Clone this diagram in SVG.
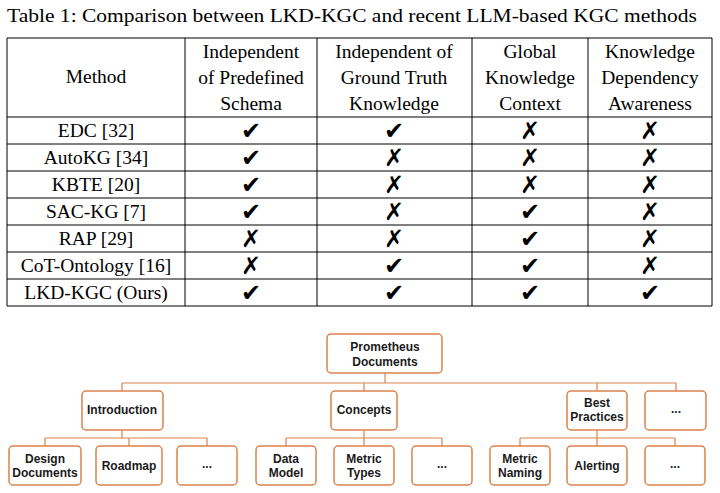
<svg xmlns="http://www.w3.org/2000/svg" width="720" height="493" viewBox="0 0 720 493">
<style>
.t{font-family:"Liberation Serif",serif;font-size:19.5px;fill:#000}
.c{text-anchor:middle}
.m{font-family:"DejaVu Sans",sans-serif;font-size:24px;text-anchor:middle;fill:#000}
.ln{stroke:#000;stroke-width:1;fill:none}
.b{fill:#fff;stroke:#d9834a;stroke-width:1.5}
.n{font-family:"Liberation Sans",Arial,sans-serif;font-size:12px;font-weight:bold;text-anchor:middle;fill:#1a1a1a}
.e{stroke:#d9834a;stroke-width:1.2;fill:none}
</style>
<rect width="720" height="493" fill="#fff"/>
<text class="t" x="7" y="22" font-size="20" textLength="690" lengthAdjust="spacingAndGlyphs">Table 1: Comparison between LKD-KGC and recent LLM-based KGC methods</text>
<g id="table">
<path class="ln" d="M7 38H712V306H7Z M7 117H712 M7 144H712 M7 171H712 M7 198H712 M7 225H712 M7 252H712 M7 279H712 M185 38V306 M317 38V306 M472 38V306 M588 38V306"/>
<text class="t c" x="96" y="83">Method</text>
<text class="t c" x="251" y="58">Independent</text><text class="t c" x="251" y="84">of Predefined</text><text class="t c" x="251" y="110">Schema</text>
<text class="t c" x="394" y="58">Independent of</text><text class="t c" x="394" y="84">Ground Truth</text><text class="t c" x="394" y="110">Knowledge</text>
<text class="t c" x="530" y="58">Global</text><text class="t c" x="530" y="84">Knowledge</text><text class="t c" x="530" y="110">Context</text>
<text class="t c" x="650" y="58">Knowledge</text><text class="t c" x="650" y="84">Dependency</text><text class="t c" x="650" y="110">Awareness</text>
<g class="t c">
<text x="96" y="137">EDC [32]</text>
<text x="96" y="164">AutoKG [34]</text>
<text x="96" y="191">KBTE [20]</text>
<text x="96" y="218">SAC-KG [7]</text>
<text x="96" y="245">RAP [29]</text>
<text x="96" y="272">CoT-Ontology [16]</text>
<text x="96" y="299">LKD-KGC (Ours)</text>
</g>
<g class="m">
<text x="251" y="139">✔</text><text x="394" y="139">✔</text><text x="530" y="139">✗</text><text x="650" y="139">✗</text>
<text x="251" y="166">✔</text><text x="394" y="166">✗</text><text x="530" y="166">✗</text><text x="650" y="166">✗</text>
<text x="251" y="193">✔</text><text x="394" y="193">✗</text><text x="530" y="193">✗</text><text x="650" y="193">✗</text>
<text x="251" y="220">✔</text><text x="394" y="220">✗</text><text x="530" y="220">✔</text><text x="650" y="220">✗</text>
<text x="251" y="247">✗</text><text x="394" y="247">✗</text><text x="530" y="247">✔</text><text x="650" y="247">✗</text>
<text x="251" y="274">✗</text><text x="394" y="274">✔</text><text x="530" y="274">✔</text><text x="650" y="274">✗</text>
<text x="251" y="301">✔</text><text x="394" y="301">✔</text><text x="530" y="301">✔</text><text x="650" y="301">✔</text>
</g>
</g>
<g id="connectors" class="e">
<path d="M385 373V383 M122 383H676 M122 383V391 M364 383V391 M597 383V391 M676 383V391"/>
<path d="M122 430V438 M45 438H207 M45 438V446 M129 438V446 M207 438V446"/>
<path d="M364 430V438 M286 438H442 M286 438V446 M364 438V446 M442 438V446"/>
<path d="M597 430V438 M520 438H675 M520 438V446 M597 438V446 M675 438V446"/>
</g>
<g id="root"><rect class="b" x="327" y="334" width="115" height="39" rx="4"/><text class="n" x="385" y="351">Prometheus</text><text class="n" x="385" y="366">Documents</text></g>
<g id="intro"><rect class="b" x="82" y="391" width="81" height="39" rx="4"/><text class="n" x="122" y="414">Introduction</text></g>
<g id="concepts"><rect class="b" x="331" y="391" width="66" height="39" rx="4"/><text class="n" x="364" y="414">Concepts</text></g>
<g id="best"><rect class="b" x="567" y="391" width="60" height="39" rx="4"/><text class="n" x="597" y="407">Best</text><text class="n" x="597" y="421">Practices</text></g>
<g id="more1"><rect class="b" x="645" y="391" width="61" height="39" rx="4"/><text class="n" x="676" y="413">...</text></g>
<g id="design"><rect class="b" x="9" y="446" width="72" height="39" rx="4"/><text class="n" x="45" y="463">Design</text><text class="n" x="45" y="477">Documents</text></g>
<g id="roadmap"><rect class="b" x="96" y="446" width="66" height="39" rx="4"/><text class="n" x="129" y="470">Roadmap</text></g>
<g id="more2"><rect class="b" x="177" y="446" width="60" height="39" rx="4"/><text class="n" x="207" y="468">...</text></g>
<g id="datamodel"><rect class="b" x="256" y="446" width="60" height="39" rx="4"/><text class="n" x="286" y="463">Data</text><text class="n" x="286" y="477">Model</text></g>
<g id="metrictypes"><rect class="b" x="334" y="446" width="60" height="39" rx="4"/><text class="n" x="364" y="463">Metric</text><text class="n" x="364" y="477">Types</text></g>
<g id="more3"><rect class="b" x="412" y="446" width="60" height="39" rx="4"/><text class="n" x="442" y="468">...</text></g>
<g id="naming"><rect class="b" x="490" y="446" width="60" height="39" rx="4"/><text class="n" x="520" y="463">Metric</text><text class="n" x="520" y="477">Naming</text></g>
<g id="alerting"><rect class="b" x="567" y="446" width="60" height="39" rx="4"/><text class="n" x="597" y="470">Alerting</text></g>
<g id="more4"><rect class="b" x="645" y="446" width="60" height="39" rx="4"/><text class="n" x="675" y="468">...</text></g>
</svg>
